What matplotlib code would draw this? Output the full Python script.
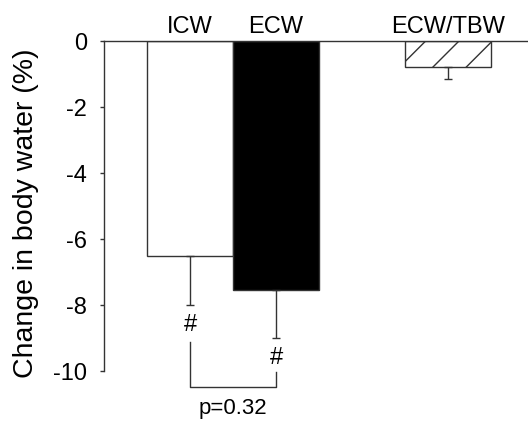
import numpy as np
import matplotlib.pyplot as plt

plt.rcParams['font.family'] = ['Liberation Sans', 'DejaVu Sans']

labels = ['ICW', 'ECW', 'ECW/TBW']
positions = [0, 1, 3]
values = [-6.5, -7.55, -0.78]
errors = [1.5, 1.45, 0.37]
faces = ['white', 'black', 'white']
hatches = ['', '', '/']

fig = plt.figure(figsize=(5.28, 4.25), dpi=100)
ax = fig.add_axes([104 / 528, 1 - 371 / 425, 1 - 104 / 528, (371 - 41) / 425])

for x, lab, v, e, fc, h in zip(positions, labels, values, errors, faces, hatches):
    ax.bar(x, v, width=1.0, color=fc, edgecolor='#333333', linewidth=1.0,
           hatch=h, zorder=2)
    ax.errorbar(x, v, yerr=[[e], [0]], fmt='none', ecolor='#333333',
                elinewidth=1.0, capsize=3, capthick=1.0, zorder=3)
    ax.text(x, 0.24, lab, ha='center', va='baseline', fontsize=17)

# significance marks
ax.text(0, -8.6, '#', ha='center', va='center', fontsize=17, clip_on=False)
ax.text(1, -9.6, '#', ha='center', va='center', fontsize=17, clip_on=False)
ax.plot([0, 0, 1, 1], [-9.12, -10.48, -10.48, -10.03], color='#333333',
        lw=1.0, clip_on=False)
ax.text(0.5, -11.15, 'p=0.32', ha='center', va='center', fontsize=16,
        clip_on=False)

ax.set_xlim(-1, 3.93)
ax.set_ylim(-10, 0)
ax.set_yticks([0, -2, -4, -6, -8, -10])
ax.set_yticklabels(['0', '-2', '-4', '-6', '-8', '-10'])
ax.set_xticks([])
ax.tick_params(axis='y', direction='out', length=3, width=1.0,
               color='#333333', labelsize=17, pad=9)
for s in ['right', 'bottom']:
    ax.spines[s].set_visible(False)
for s in ['left', 'top']:
    ax.spines[s].set_color('#333333')
    ax.spines[s].set_linewidth(1.0)
ax.set_ylabel('Change in body water (%)', fontsize=20.5, va='center')
ax.yaxis.set_label_coords(-0.184, 0.479)

fig.savefig('out.png', dpi=100)
